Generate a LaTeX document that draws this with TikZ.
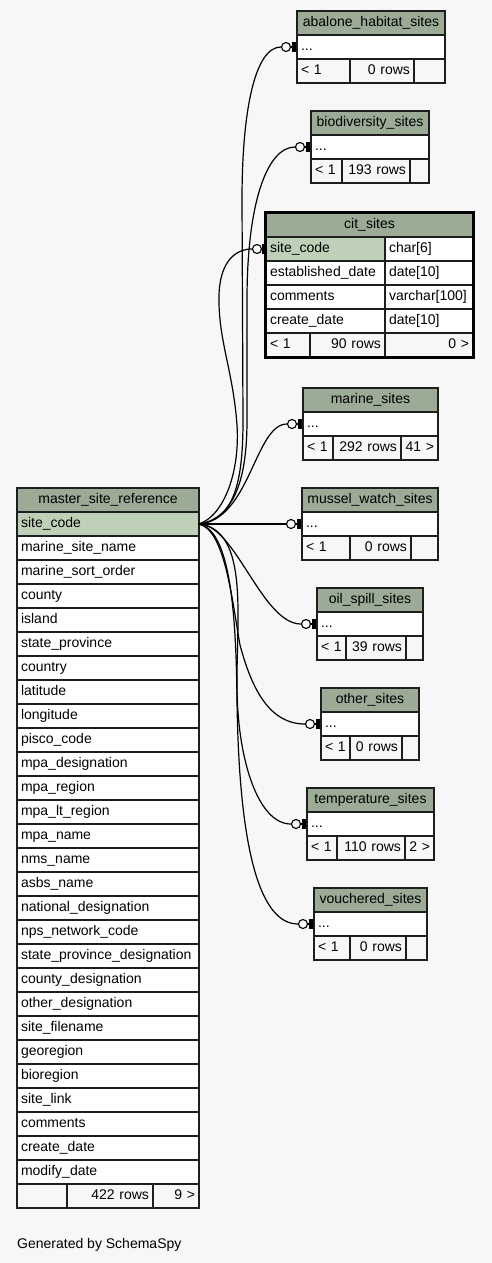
\documentclass[tikz,border=0pt]{standalone}
\usepackage{fontspec}
\setmainfont{Liberation Sans}
\definecolor{bgc}{HTML}{F7F7F7}
\definecolor{headc}{HTML}{9BAB96}
\definecolor{selc}{HTML}{BED1B8}
\definecolor{bordc}{HTML}{1E1E1E}
\newcommand\erfont{\fontsize{14}{16}\selectfont}
\newcommand\ercell[6]{\node[cell,#5,minimum width=#4pt,text width=\the\dimexpr#4pt-8pt\relax] (#1) at (#2,#3) {#6};}
\tikzset{
  cell/.style={draw=bordc, line width=1.2pt, anchor=north west, minimum height=24pt,
    inner xsep=4pt, inner ysep=0pt, outer sep=0pt, font=\erfont, execute at begin node=\strut},
  hd/.style={fill=headc, align=center},
  rw/.style={fill=white, align=left},
  sl/.style={fill=selc, align=left},
  fl/.style={fill=bgc, align=left},
  fr/.style={fill=bgc, align=right},
  omark/.style={circle, draw=black, fill=bgc, line width=1.1pt, minimum size=9pt, inner sep=0pt},
  endbar/.style={rectangle, fill=black, minimum width=3.8pt, minimum height=10pt, inner sep=0pt},
  conn/.style={draw=black, line width=1.2pt}
}
\begin{document}
\begin{tikzpicture}[x=1pt,y=-1pt]
\useasboundingbox (0,0) rectangle (492,1263);
\fill[bgc] (0,0) rectangle (492,1263);

% abalone_habitat_sites
\ercell{ab-h}{297}{11}{148}{hd}{abalone\_habitat\_sites}
\ercell{ab-r}{297}{35}{148}{rw}{...}
\ercell{ab-f1}{297}{59}{53}{fl}{< 1}
\ercell{ab-f2}{350}{59}{64}{fr}{0 rows}
\ercell{ab-f3}{414}{59}{31}{fr}{}
\node[omark] (ab-o) at (286,47) {};
\node[endbar] (ab-b) at (294,47) {};

% biodiversity_sites
\ercell{bi-h}{311}{111}{118}{hd}{biodiversity\_sites}
\ercell{bi-r}{311}{135}{118}{rw}{...}
\ercell{bi-f1}{311}{159}{31}{fl}{< 1}
\ercell{bi-f2}{342}{159}{68}{fr}{193 rows}
\ercell{bi-f3}{410}{159}{19}{fr}{}
\node[omark] (bi-o) at (300,147) {};
\node[endbar] (bi-b) at (308,147) {};

% cit_sites
\ercell{ci-h}{266}{213}{207}{hd}{cit\_sites}
\ercell{ci-r1}{266}{237}{119}{sl}{site\_code}
\ercell{ci-t1}{385}{237}{88}{rw}{char[6]}
\ercell{ci-r2}{266}{261}{119}{rw}{established\_date}
\ercell{ci-t2}{385}{261}{88}{rw}{date[10]}
\ercell{ci-r3}{266}{285}{119}{rw}{comments}
\ercell{ci-t3}{385}{285}{88}{rw}{varchar[100]}
\ercell{ci-r4}{266}{309}{119}{rw}{create\_date}
\ercell{ci-t4}{385}{309}{88}{rw}{date[10]}
\ercell{ci-f1}{266}{333}{44}{fl}{< 1}
\ercell{ci-f2}{310}{333}{75}{fr}{90 rows}
\ercell{ci-f3}{385}{333}{88}{fr}{0 >}
\draw[line width=3pt, black] (265.5,212.3) rectangle (473.7,357.7);
\node[omark] (ci-o) at (257,249) {};
\node[endbar] (ci-b) at (264,249) {};

% marine_sites
\ercell{ma-h}{303}{388}{135}{hd}{marine\_sites}
\ercell{ma-r}{303}{412}{135}{rw}{...}
\ercell{ma-f1}{303}{436}{30}{fl}{< 1}
\ercell{ma-f2}{333}{436}{68}{fr}{292 rows}
\ercell{ma-f3}{401}{436}{37}{fr}{41 >}
\node[omark] (ma-o) at (292,424) {};
\node[endbar] (ma-b) at (300,424) {};

% mussel_watch_sites
\ercell{mu-h}{302}{488}{136}{hd}{mussel\_watch\_sites}
\ercell{mu-r}{302}{512}{136}{rw}{...}
\ercell{mu-f1}{302}{536}{48}{fl}{< 1}
\ercell{mu-f2}{350}{536}{61}{fr}{0 rows}
\ercell{mu-f3}{411}{536}{27}{fr}{}
\node[omark] (mu-o) at (291,524) {};
\node[endbar] (mu-b) at (299,524) {};

% oil_spill_sites
\ercell{oi-h}{317}{588}{106}{hd}{oil\_spill\_sites}
\ercell{oi-r}{317}{612}{106}{rw}{...}
\ercell{oi-f1}{317}{636}{29}{fl}{< 1}
\ercell{oi-f2}{346}{636}{60}{fr}{39 rows}
\ercell{oi-f3}{406}{636}{17}{fr}{}
\node[omark] (oi-o) at (306,624) {};
\node[endbar] (oi-b) at (314,624) {};

% other_sites
\ercell{ot-h}{321}{688}{98}{hd}{other\_sites}
\ercell{ot-r}{321}{712}{98}{rw}{...}
\ercell{ot-f1}{321}{736}{29}{fl}{< 1}
\ercell{ot-f2}{350}{736}{52}{fr}{0 rows}
\ercell{ot-f3}{402}{736}{17}{fr}{}
\node[omark] (ot-o) at (310,724) {};
\node[endbar] (ot-b) at (318,724) {};

% temperature_sites
\ercell{te-h}{307}{788}{127}{hd}{temperature\_sites}
\ercell{te-r}{307}{812}{127}{rw}{...}
\ercell{te-f1}{307}{836}{30}{fl}{< 1}
\ercell{te-f2}{337}{836}{68}{fr}{110 rows}
\ercell{te-f3}{405}{836}{29}{fr}{2 >}
\node[omark] (te-o) at (296,824) {};
\node[endbar] (te-b) at (304,824) {};

% vouchered_sites
\ercell{vo-h}{314}{888}{113}{hd}{vouchered\_sites}
\ercell{vo-r}{314}{912}{113}{rw}{...}
\ercell{vo-f1}{314}{936}{36}{fl}{< 1}
\ercell{vo-f2}{350}{936}{56}{fr}{0 rows}
\ercell{vo-f3}{406}{936}{21}{fr}{}
\node[omark] (vo-o) at (303,924) {};
\node[endbar] (vo-b) at (311,924) {};

% master_site_reference
\ercell{ms-h}{17}{488}{182}{hd}{master\_site\_reference}
\ercell{ms-sc}{17}{512}{182}{sl}{site\_code}
\foreach \t [count=\i, evaluate=\i as \yy using 512+24*\i] in {marine\_site\_name, marine\_sort\_order, county, island, state\_province, country, latitude, longitude, pisco\_code, mpa\_designation, mpa\_region, mpa\_lt\_region, mpa\_name, nms\_name, asbs\_name, national\_designation, nps\_network\_code, state\_province\_designation, county\_designation, other\_designation, site\_filename, georegion, bioregion, site\_link, comments, create\_date, modify\_date}{
  \ercell{ms-\i}{17}{\yy}{182}{rw}{\t}
}
\ercell{ms-f1}{17}{1184}{50}{fl}{}
\ercell{ms-f2}{67}{1184}{86}{fr}{422 rows}
\ercell{ms-f3}{153}{1184}{46}{fr}{9 >}

\node[anchor=base west, inner sep=0pt, font=\erfont] (gen) at (17,1248) {Generated by SchemaSpy};

% connectors
\foreach \n in {ab,bi,ci,ma,mu,oi,ot,te,vo}{\draw[conn] (\n-o.east) -- (\n-b.west);}
\draw[conn] (ms-sc.east) .. controls (235,520) and (243,480) .. (243,420) -- (242,200) .. controls (242,110) and (255,47) .. (ab-o.west);
\draw[conn] (ms-sc.east) .. controls (238,518) and (247,470) .. (247,420) -- (247,300) .. controls (247,200) and (268,147) .. (bi-o.west);
\draw[conn] (ms-sc.east) .. controls (225,515) and (240,470) .. (237,425) .. controls (233,370) and (218,340) .. (219,295) .. controls (220,262) and (235,249) .. (ci-o.west);
\draw[conn] (ms-sc.east) .. controls (250,520) and (255,424) .. (ma-o.west);
\draw[conn] (ms-sc.east) -- (mu-o.west);
\draw[conn] (ms-sc.east) .. controls (235,524) and (262,624) .. (oi-o.west);
\draw[conn] (ms-sc.east) .. controls (225,530) and (232,600) .. (240,645) .. controls (252,690) and (270,724) .. (ot-o.west);
\draw[conn] (ms-sc.east) .. controls (250,530) and (236,620) .. (237,690) .. controls (238,760) and (258,824) .. (te-o.west);
\draw[conn] (ms-sc.east) .. controls (228,530) and (236,600) .. (237,700) .. controls (239,850) and (260,924) .. (vo-o.west);
\end{tikzpicture}
\end{document}
